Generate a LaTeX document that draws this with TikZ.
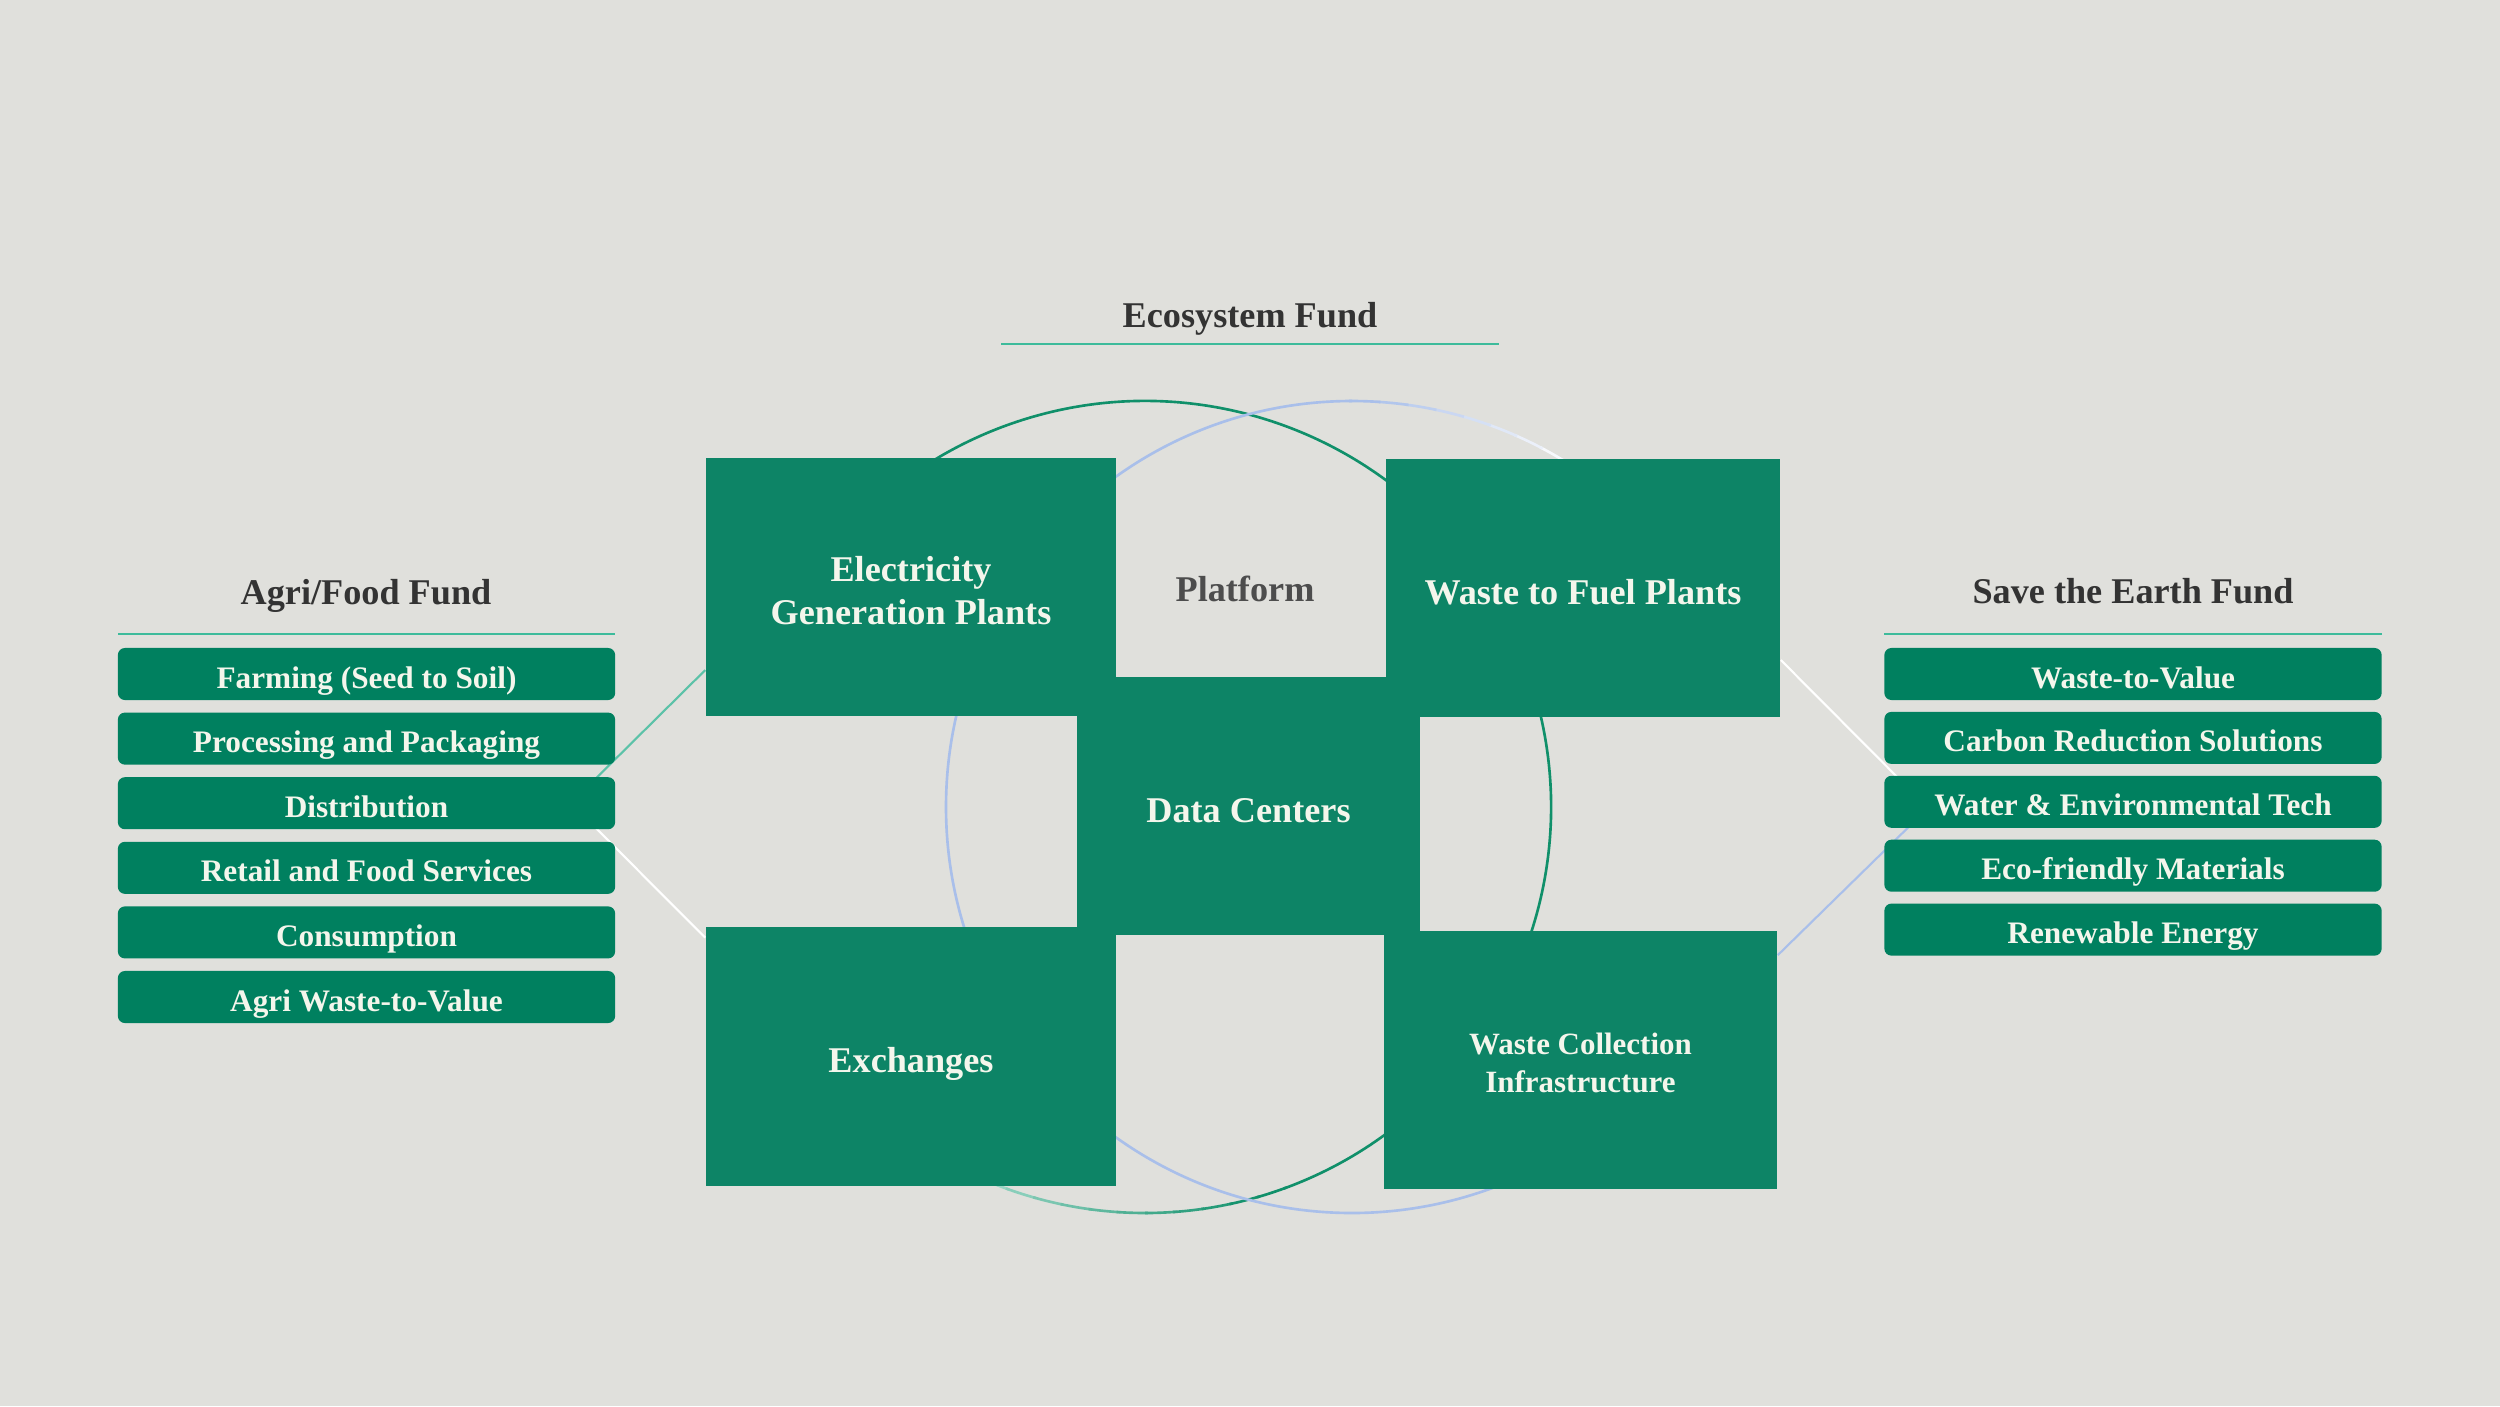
\documentclass[tikz,border=0pt]{standalone}
\usepackage{fontspec}
\setmainfont{Liberation Serif}
\usetikzlibrary{positioning}
\definecolor{paper}{HTML}{E0E0DC}
\definecolor{deep}{HTML}{0D8466}
\definecolor{pill}{HTML}{00805F}
\definecolor{ink}{HTML}{333333}
\definecolor{soft}{HTML}{4D4D4D}
\definecolor{cream}{HTML}{F4F6EC}
\definecolor{rule}{HTML}{3DBB9B}
\definecolor{ringgreen}{HTML}{10906A}
\definecolor{mint}{HTML}{B4E3D6}
\definecolor{sky}{HTML}{A9BFEA}
\definecolor{linkteal}{HTML}{5CC2A8}
\pgfdeclarelayer{back}
\pgfsetlayers{back,main}

\begin{document}
\begin{tikzpicture}[x=0.01cm,y=-0.01cm,
  block/.style={fill=deep,text=cream,inner sep=0pt,align=center,minimum height=2.58cm,font=\fontsize{10.3}{12.2}\selectfont\bfseries},
  oneline/.style={text height=0.92em,text depth=0pt},
  tag/.style={fill=pill,text=cream,rounded corners=0.07cm,minimum width=4.97cm,minimum height=0.52cm,inner sep=0pt,text height=0.8em,text depth=0pt,font=\fontsize{8.9}{10}\selectfont\bfseries},
  head/.style={text=ink,inner sep=0pt,text height=0.78em,text depth=0pt,font=\fontsize{10.3}{12}\selectfont\bfseries},
  ring/.style={line width=0.75pt},
  link/.style={line width=0.6pt}]
\useasboundingbox (0,0) rectangle (2500,1406);

% titles
\node[head] (ecotitle) at (1250,314) {Ecosystem Fund};
\node[head] (agrititle) at (366,591) {Agri/Food Fund};
\node[head] (earthtitle) at (2133,590) {Save the Earth Fund};
\draw[rule,line width=0.6pt] (1001,344) -- (1499,344);
\draw[rule,line width=0.6pt] (118,634) -- (615,634);
\draw[rule,line width=0.6pt] (1884,634) -- (2382,634);

% centre blocks
\node[head,text=soft] (platform) at (1245,588) {Platform};
\node[block,minimum width=4.10cm] (elec) at (911,587) {\rule{0pt}{0.9em}Electricity\\Generation Plants};
\node[block,oneline,minimum width=3.94cm] (wtf) at (1583,588) {Waste to Fuel Plants};
\node[block,oneline,minimum width=3.43cm] (dc) at (1248.5,806) {Data Centers};
\node[block,oneline,minimum width=4.10cm,minimum height=2.59cm] (exch) at (911,1056.5) {Exchanges};
\node[block,minimum width=3.93cm,font=\fontsize{8.8}{10.8}\selectfont\bfseries] (wcol) at (1580.5,1060) {\rule{0pt}{0.9em}Waste Collection\\Infrastructure};

% fund lists
\foreach \t [count=\i] in {Farming (Seed to Soil),Processing and Packaging,Distribution,Retail and Food Services,Consumption,Agri Waste-to-Value}
  \node[tag] (agri\i) at (366.5,{674+64.6*(\i-1)}) {\t};
\foreach \t [count=\i] in {Waste-to-Value,Carbon Reduction Solutions,Water \& Environmental Tech,Eco-friendly Materials,Renewable Energy}
  \node[tag] (earth\i) at (2133,{674+63.9*(\i-1)}) {\t};

\begin{pgfonlayer}{back}
\fill[paper] (0,0) rectangle (2500,1406);
\coordinate (gc) at (1145,807);
\coordinate (bc) at (1352,807);
% green ring
\foreach \a in {230,234,...,286}{
  \pgfmathtruncatemacro\p{max(0,min(100,(\a-238)*2.2))}
  \draw[ring,ringgreen!\p!mint] (gc) ++(-\a:406) arc[start angle=-\a,end angle=-\a-4.4,radius=406];}
\draw[ring,ringgreen] (gc) ++(-290:406) arc[start angle=-290,end angle=-510,radius=406];
% blue ring
\foreach \a in {30,34,...,86}{
  \pgfmathtruncatemacro\p{max(0,min(100,(\a-55)*3.3))}
  \draw[ring,sky!\p!white] (bc) ++(-\a:406) arc[start angle=-\a,end angle=-\a-4.4,radius=406];}
\draw[ring,sky] (bc) ++(-90:406) arc[start angle=-90,end angle=-330,radius=406];
% links
\coordinate (aghub) at (571,803);
\coordinate (earthhub) at (1928,808);
\draw[link,linkteal] (aghub) -- (elec.202);
\draw[link,white] (aghub) -- (exch.150);
\draw[link,white] (earthhub) -- (wtf.-20);
\draw[link,sky] (earthhub) -- (wcol.28);
\end{pgfonlayer}
\end{tikzpicture}
\end{document}
